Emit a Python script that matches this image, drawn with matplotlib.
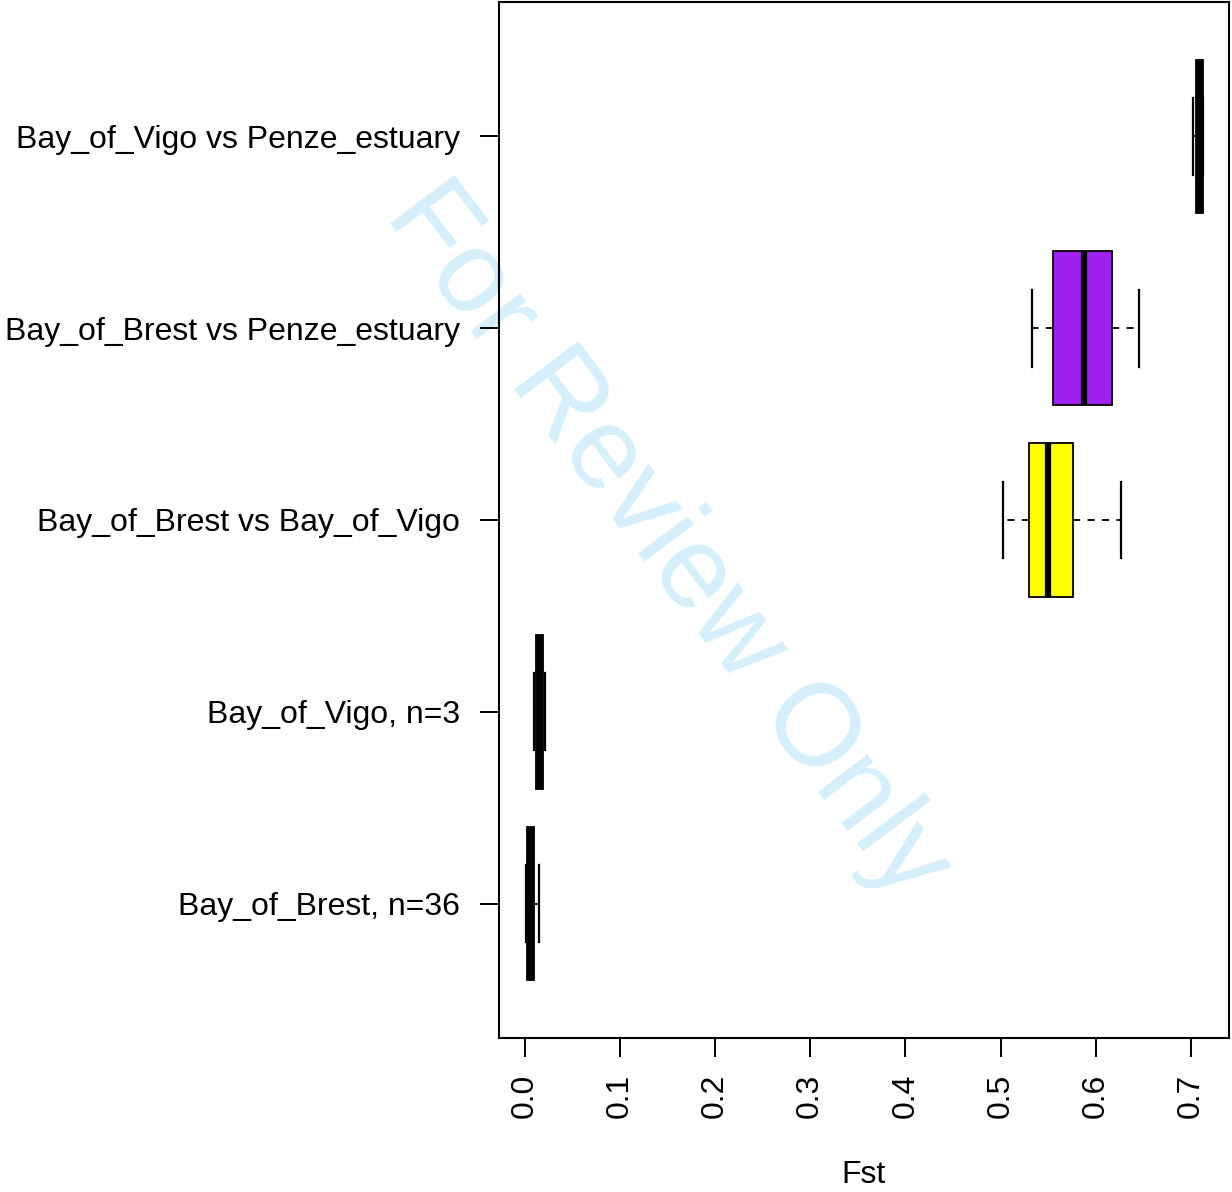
import matplotlib
matplotlib.use("Agg")
import matplotlib.pyplot as plt

plt.rcParams["font.family"] = ["Liberation Sans", "DejaVu Sans"]

# ==================== data ====================
labels = ["Bay_of_Brest, n=36", "Bay_of_Vigo, n=3", "Bay_of_Brest vs Bay_of_Vigo",
          "Bay_of_Brest vs Penze_estuary", "Bay_of_Vigo vs Penze_estuary"]
whislo = [0.0013, 0.0097, 0.503, 0.533, 0.702]
q1 = [0.0030, 0.0121, 0.5296, 0.5555, 0.7058]
med = [0.0065, 0.0163, 0.550, 0.5874, 0.7092]
q3 = [0.0100, 0.0198, 0.576, 0.6168, 0.7122]
whishi = [0.0149, 0.0215, 0.627, 0.6455, 0.7122]
box_colors = ["black", "black", "#FFFF00", "#A020F0", "#1a1000"]
x_ticks = [0.0, 0.1, 0.2, 0.3, 0.4, 0.5, 0.6, 0.7]

stats = []
for i in range(len(labels)):
    stats.append({"label": labels[i], "whislo": whislo[i], "q1": q1[i], "med": med[i],
                  "q3": q3[i], "whishi": whishi[i], "fliers": []})

fig = plt.figure(figsize=(12.32, 11.92), dpi=100)
ax = fig.add_axes([499 / 1232, 1 - 1038 / 1192, 730 / 1232, 1036 / 1192])

bp = ax.bxp(stats, positions=range(1, 6), vert=False, widths=0.8, patch_artist=True,
            showfliers=False,
            boxprops=dict(linewidth=1.3, edgecolor="black"),
            medianprops=dict(color="black", linewidth=4.5, solid_capstyle="butt"),
            whiskerprops=dict(color="black", linewidth=1.3, linestyle=(0, (4, 4))),
            capprops=dict(color="black", linewidth=1.6), capwidths=0.4)
for patch, c in zip(bp["boxes"], box_colors):
    patch.set_facecolor(c)

ax.set_xlim(-0.0268, 0.740)
ax.set_ylim(0.3, 5.7)
ax.set_xticks(x_ticks)
ax.set_xticklabels([f"{t:.1f}" for t in x_ticks], rotation=90)
ax.set_yticks(range(1, 6))
ax.set_yticklabels(labels)
ax.tick_params(axis="both", labelsize=23, length=14, width=1.4)
ax.tick_params(axis="y", pad=14)
ax.tick_params(axis="x", pad=12)
for s in ax.spines.values():
    s.set_linewidth(1.5)
ax.set_xlabel("Fst", fontsize=23, labelpad=30)

# watermark
ax.text(667 / 1232, 1 - 541 / 1192, "For Review Only", transform=fig.transFigure,
        rotation=-53, fontsize=84, color="#d5effc", ha="center", va="center",
        zorder=0.5, clip_on=False)

fig.savefig("out.png", dpi=100)
